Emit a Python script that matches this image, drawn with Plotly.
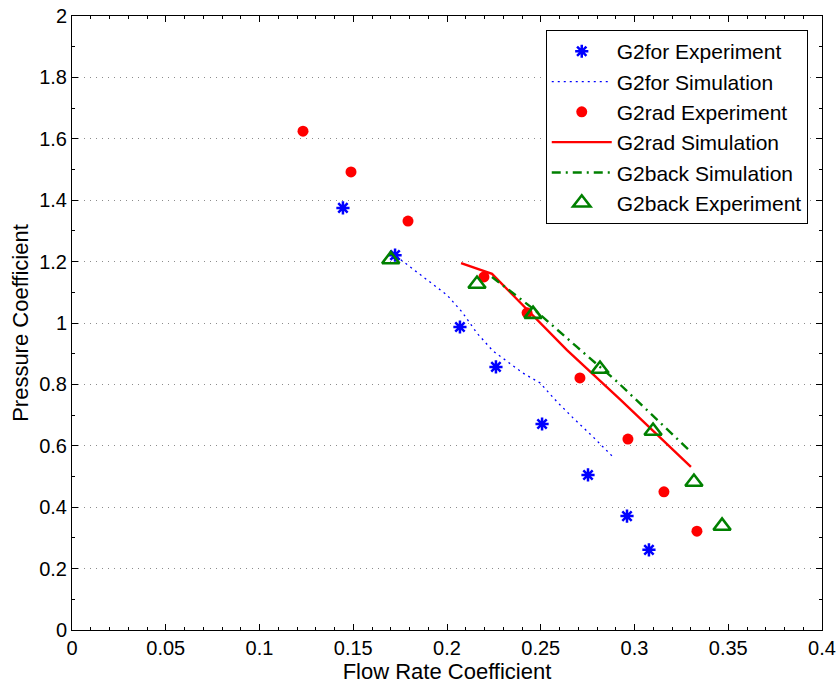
import plotly.graph_objects as go

# G2for
g2for_exp_x = [0.1445, 0.1723, 0.2069, 0.2261, 0.2507, 0.2752, 0.2960, 0.3077]
g2for_exp_y = [1.375, 1.221, 0.987, 0.857, 0.671, 0.505, 0.371, 0.261]
g2for_sim_x = [0.1728, 0.1872, 0.2000, 0.2080, 0.2160, 0.2245, 0.2309, 0.2405, 0.2496, 0.2587, 0.2672, 0.2779, 0.2885]
g2for_sim_y = [1.218, 1.150, 1.091, 1.036, 0.967, 0.909, 0.879, 0.837, 0.805, 0.743, 0.691, 0.629, 0.564]

# G2rad
g2rad_exp_x = [0.1232, 0.1488, 0.1792, 0.2197, 0.2427, 0.2709, 0.2965, 0.3157, 0.3333]
g2rad_exp_y = [1.625, 1.492, 1.332, 1.150, 1.033, 0.821, 0.622, 0.450, 0.322]
g2rad_sim_x = [0.2075, 0.2240, 0.2640, 0.2923, 0.3301]
g2rad_sim_y = [1.195, 1.160, 0.912, 0.751, 0.531]

# G2back
g2back_sim_x = [0.2240, 0.2469, 0.2693, 0.2905, 0.3296]
g2back_sim_y = [1.150, 1.042, 0.922, 0.810, 0.583]
g2back_exp_x = [0.1700, 0.2160, 0.2459, 0.2816, 0.3099, 0.3317, 0.3467]
g2back_exp_y = [1.207, 1.127, 1.029, 0.850, 0.648, 0.482, 0.339]

x_ticks = [0, 0.05, 0.1, 0.15, 0.2, 0.25, 0.3, 0.35, 0.4]
x_tick_labels = ["0", "0.05", "0.1", "0.15", "0.2", "0.25", "0.3", "0.35", "0.4"]
y_ticks = [0, 0.2, 0.4, 0.6, 0.8, 1, 1.2, 1.4, 1.6, 1.8, 2]
y_tick_labels = ["0", "0.2", "0.4", "0.6", "0.8", "1", "1.2", "1.4", "1.6", "1.8", "2"]

BLUE = "#0000ff"
RED = "#ff0000"
GREEN = "#008000"

fig = go.Figure()
fig.add_trace(go.Scatter(x=g2for_exp_x, y=g2for_exp_y, mode="markers", name="G2for Experiment",
                         marker=dict(symbol="asterisk-open", size=11, color=BLUE,
                                     line=dict(color=BLUE, width=2.5))))
fig.add_trace(go.Scatter(x=g2for_sim_x, y=g2for_sim_y, mode="lines", name="G2for Simulation",
                         line=dict(color=BLUE, width=1.3, dash="2px,4px")))
fig.add_trace(go.Scatter(x=g2rad_exp_x, y=g2rad_exp_y, mode="markers", name="G2rad Experiment",
                         marker=dict(symbol="circle", size=11, color=RED)))
fig.add_trace(go.Scatter(x=g2rad_sim_x, y=g2rad_sim_y, mode="lines", name="G2rad Simulation",
                         line=dict(color=RED, width=2.4)))
fig.add_trace(go.Scatter(x=g2back_sim_x, y=g2back_sim_y, mode="lines", name="G2back Simulation",
                         line=dict(color=GREEN, width=2.4, dash="9px,5px,2px,5px")))
fig.add_trace(go.Scatter(x=g2back_exp_x, y=g2back_exp_y, mode="markers", name="G2back Experiment",
                         marker=dict(symbol="triangle-up-open", size=15, color=GREEN,
                                     line=dict(color=GREEN, width=2.6))))

font_family = "Liberation Sans, Arial, Helvetica, sans-serif"

fig.update_layout(
    width=840, height=684,
    margin=dict(l=72, r=18, t=16, b=54),
    paper_bgcolor="white", plot_bgcolor="white",
    font=dict(family=font_family, size=21, color="black"),
    showlegend=True,
    legend=dict(x=0.981, y=0.977, xanchor="right", yanchor="top",
                bgcolor="white", bordercolor="black", borderwidth=1,
                font=dict(size=21), itemwidth=60, tracegroupgap=0),
    xaxis=dict(range=[0, 0.4], tickvals=x_ticks, ticktext=x_tick_labels, automargin=False,
               showgrid=False, zeroline=False, showline=True, linecolor="black", linewidth=1,
               mirror="allticks", ticks="inside", ticklen=6, tickcolor="black",
               minor=dict(dtick=0.01, ticks="inside", ticklen=3, tickcolor="black", showgrid=False),
               title=dict(text="Flow Rate Coefficient", standoff=2, font=dict(size=22)),
               tickfont=dict(size=20)),
    yaxis=dict(range=[0, 2], tickvals=y_ticks, ticktext=y_tick_labels, automargin=False,
               showgrid=True, gridcolor="#8c8c8c", griddash="1px,5px", gridwidth=1,
               zeroline=False, showline=True, linecolor="black", linewidth=1,
               mirror="allticks", ticks="inside", ticklen=6, tickcolor="black",
               minor=dict(dtick=0.1, ticks="inside", ticklen=3, tickcolor="black", showgrid=False),
               title=dict(text="Pressure Coefficient", standoff=4, font=dict(size=22)),
               tickfont=dict(size=20)),
)

fig.write_html("out.html")
